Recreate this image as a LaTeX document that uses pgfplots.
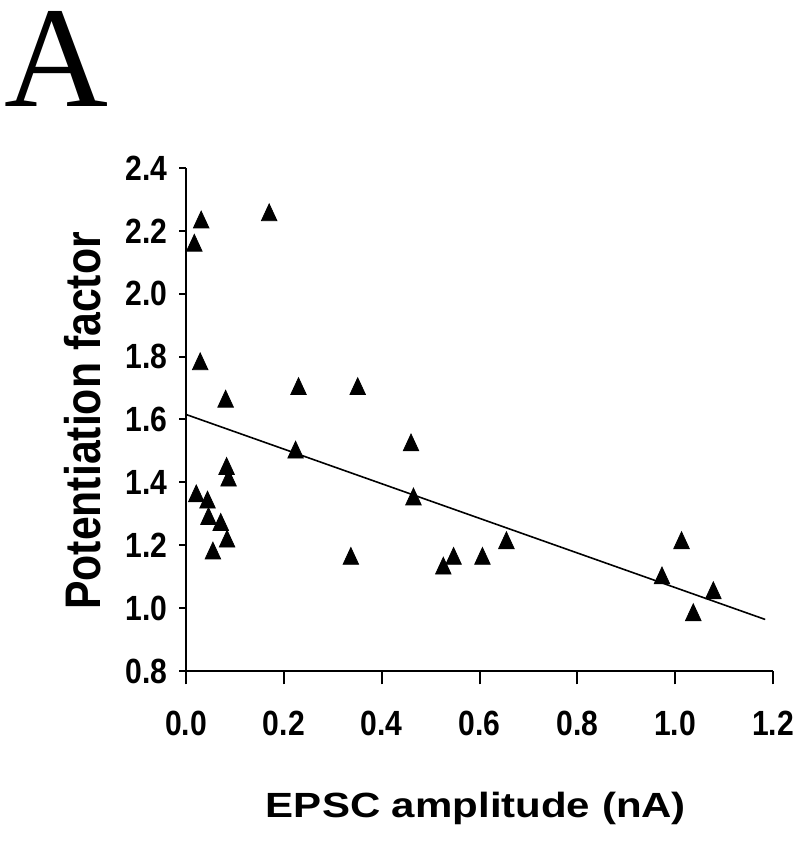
\documentclass[border=0pt]{standalone}
\usepackage{fontspec}
\setmainfont{Liberation Sans}
\newfontfamily\tickfont{Liberation Sans}[FakeStretch=0.86]
\newfontfamily\xlabfont{Liberation Sans}[FakeStretch=1.2]
\newfontfamily\ylabfont{Liberation Sans}[FakeStretch=0.855]
\newfontfamily\serifA{Liberation Serif}
\usepackage{pgfplots}
\pgfplotsset{compat=1.18}
\begin{document}
\begin{tikzpicture}
\begin{axis}[
  at={(0,0)}, anchor=south west,
  scale only axis, width=293.5pt, height=251.5pt,
  xmin=0, xmax=1.2, ymin=0.8, ymax=2.4,
  axis x line*=bottom, axis y line*=left,
  axis line style={line width=1.1pt, -},
  xtick={0,0.2,...,1.2}, ytick={0.8,1.0,...,2.4},
  tick align=outside, major tick length=3.5pt,
  tick style={line width=1.0pt, black},
  xtick style={yscale=1.9},
  /pgf/number format/assume math mode=true,
  /pgf/number format/.cd, fixed, fixed zerofill, precision=1, /pgfplots/.cd,
  xticklabel style={font=\tickfont\bfseries\fontsize{17.5}{20}\selectfont, anchor=north, inner sep=0pt, yshift=-16.3pt},
  yticklabel style={font=\tickfont\bfseries\fontsize{17.5}{20}\selectfont, anchor=east, inner sep=0pt, xshift=-5.5pt},
  xlabel={EPSC amplitude (nA)},
  ylabel={Potentiation factor},
  every axis x label/.style={at={(axis description cs:0.494,-0.2922)}, anchor=base, font=\xlabfont\bfseries\fontsize{17.5}{20}\selectfont, inner sep=0pt},
  every axis y label/.style={at={(axis description cs:-0.1448,0.497)}, anchor=base, rotate=90, font=\ylabfont\bfseries\fontsize{25}{28}\selectfont, inner sep=0pt},
  clip=false,
]
\addplot[only marks, mark=triangle*, mark size=5.6pt, mark options={fill=black, draw=black, xscale=0.8, yshift=-1.4pt}] coordinates {
(0.017,2.162) (0.031,2.236) (0.170,2.259) (0.029,1.785) (0.081,1.666)
(0.230,1.706) (0.351,1.706) (0.224,1.504) (0.083,1.452) (0.087,1.415)
(0.021,1.365) (0.044,1.345) (0.046,1.293) (0.071,1.274) (0.084,1.221)
(0.055,1.183) (0.337,1.166) (0.460,1.527) (0.465,1.355) (0.526,1.135)
(0.547,1.166) (0.606,1.166) (0.655,1.216) (0.973,1.104) (1.013,1.216)
(1.037,0.987) (1.078,1.057)
};
\addplot[black, line width=0.8pt, no marks] coordinates {(0,1.616) (1.184,0.964)};
\end{axis}
\node[anchor=base west, inner sep=0pt, font=\serifA\fontsize{72}{80}\selectfont] at (-91pt,282pt) {A};
\pgfresetboundingbox
\path[use as bounding box] (-93pt,-97pt) rectangle (307pt,335.5pt);
\end{tikzpicture}
\end{document}
